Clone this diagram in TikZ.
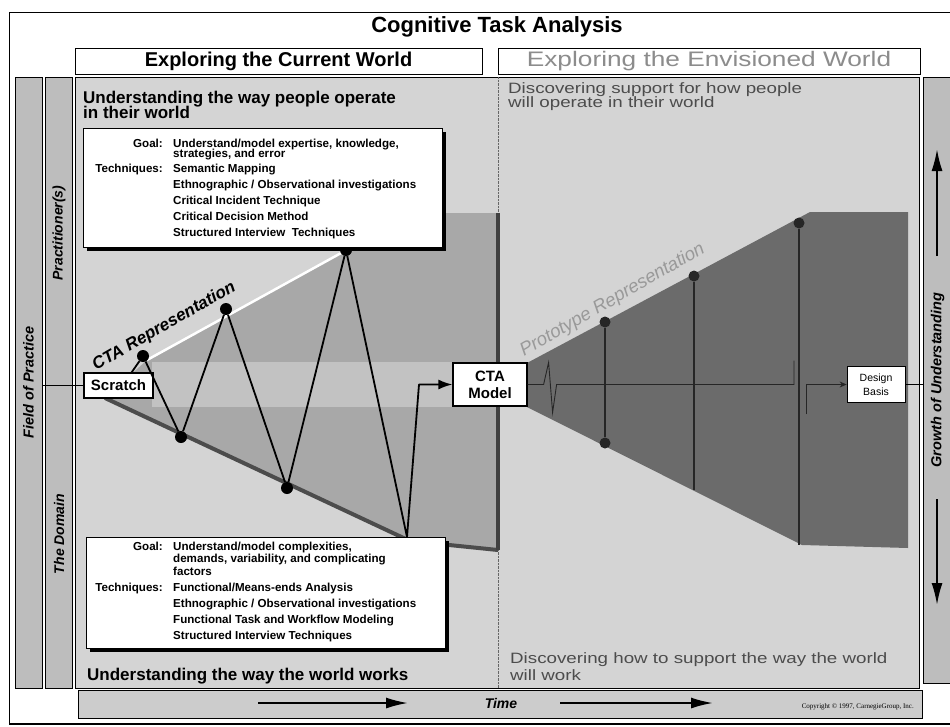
\documentclass[tikz,border=0pt]{standalone}
\usepackage{graphicx}
\usepackage{fontspec}
\setmainfont{Liberation Sans}
\newfontfamily\copyfont{Liberation Serif}
\usetikzlibrary{arrows.meta,shadows}
\newcommand{\widetext}[1]{\scalebox{1.25}[1]{#1}}
\lineskiplimit=-100pt

\begin{document}
\begin{tikzpicture}[x=1pt,y=-1pt,
    hdrbox/.style={draw, fill=white, line width=1pt, inner sep=0pt},
    colbox/.style={draw, fill=black!26, line width=0.6pt, inner sep=0pt,
        font=\bfseries\itshape\fontsize{14.5}{14.5}\selectfont},
    collabel/.style={inner sep=0pt, font=\bfseries\itshape\fontsize{14}{14}\selectfont},
    smallbox/.style={draw, fill=white, line width=1.2pt, inner sep=0pt},
    infobox/.style={draw, fill=white, line width=1pt, inner sep=0pt,
        drop shadow={shadow xshift=3pt, shadow yshift=-3pt, opacity=1, fill=black}},
    boxtext/.style={inner sep=0pt, align=left, font=\bfseries\fontsize{11.6}{16}\selectfont},
    boxkey/.style={boxtext, align=right},
    headtext/.style={inner sep=0pt, align=left, font=\bfseries\fontsize{17}{15}\selectfont},
    softtext/.style={inner sep=0pt, align=left, text=black!70, font=\fontsize{15}{15}\selectfont},
    dot/.style={circle, fill=black, inner sep=0pt, minimum size=12pt},
    pdot/.style={circle, fill=black!85, inner sep=0pt, minimum size=11pt},
    zig/.style={line width=1.8pt, line join=round, -{Latex[length=14pt,width=10pt]}},
    ptrace/.style={line width=1.4pt, black!85},
    ftrace/.style={line width=0.9pt, black!85},
    bigarrow/.style={line width=2pt, -{Latex[length=22pt,width=11pt]}}]

\useasboundingbox (0,0) rectangle (950,726);

% frame and headings
\draw[line width=0.8pt] (952,12) -- (9,12) -- (9,724);
\draw[line width=1.6pt] (9,724) -- (952,724);
\node[font=\bfseries\fontsize{22}{22}\selectfont] (title) at (497,27) {Cognitive Task Analysis};
\node[hdrbox, minimum width=407pt, minimum height=26pt, font=\bfseries\fontsize{20}{20}\selectfont] (curw) at (278.5,61) {Exploring the Current World};
\node[hdrbox, minimum width=422pt, minimum height=26pt, text=black!45, font=\fontsize{21}{21}\selectfont] (envw) at (709,61) {\widetext{Exploring the Envisioned World}};

% side columns
\node[colbox, rotate=90, minimum width=611pt, minimum height=27pt] (fop) at (28.5,382.5) {Field of Practice};
\node[colbox, minimum width=27pt, minimum height=611pt] (prac) at (58.5,382.5) {};
\node[collabel, rotate=90] (pracl) at (59,233) {Practitioner(s)};
\node[collabel, rotate=90] (doml) at (59,534) {The Domain};
\node[colbox, rotate=90, minimum width=606pt, minimum height=29pt] (grow) at (937.5,380) {Growth of Understanding};

% main panel
\filldraw[fill=black!17, line width=0.6pt] (75,77) rectangle (919,688);
\draw[densely dotted, black!60] (498,77) -- (498,688);

% CTA wedge
\fill[black!34] (147,360) -- (360,243) -- (360,213) -- (498,213) -- (498,550) -- (410,541) -- (105,398) -- cycle;
\fill[black!24] (152,362) rectangle (453,407);
\draw[white, line width=2.5pt] (147,360) -- (352,247);
\draw[black!70, line width=4pt] (105,398) -- (410,541) -- (498,550);
\draw[black!75, line width=4pt] (498,213) -- (498,550);

% prototype wedge
\fill[black!58] (527,363) -- (810,212) -- (908,212) -- (908,548) -- (802,545) -- (527,407) -- cycle;

\node[smallbox, minimum width=69pt, minimum height=25pt, font=\bfseries\fontsize{15}{15}\selectfont] (scratch) at (118.5,385.5) {Scratch};
\node[smallbox, minimum width=74pt, minimum height=43pt, align=center, font=\bfseries\fontsize{15}{17}\selectfont] (ctam) at (490,384.5) {CTA\\Model};
\node[smallbox, line width=0.8pt, minimum width=58pt, minimum height=36pt, align=center, font=\fontsize{10.5}{14}\selectfont] (dbase) at (876,384.5) {Design\\Basis};

% zigzag of the current world
\node[dot] (z1) at (143,356) {};
\node[dot] (z2) at (181,437) {};
\node[dot] (z3) at (226,309) {};
\node[dot] (z4) at (287,488) {};
\node[dot] (z5) at (346,250) {};
\coordinate (z6) at (407,537);
\coordinate (z7) at (419,384.5);
\draw[zig] (scratch.45) -- (z1) -- (z2) -- (z3) -- (z4) -- (z5) -- (z6) -- (z7) -- (ctam);

% prototype steps
\node[pdot] (p1) at (605,322) {};
\node[pdot] (p2) at (694,276) {};
\node[pdot] (p3) at (799,223) {};
\node[pdot] (q1) at (605,443) {};
\coordinate (q2) at (694,490);
\coordinate (q3) at (799,545);
\draw[ptrace] (p1) -- (q1);
\draw[ptrace] (p2) -- (q2);
\draw[ptrace] (p3) -- (q3);
\draw[ftrace] (ctam.east) -- ++(16,0) -- ++(5,-22) -- ++(4,50) -- ++(4,-28) -- (794,0 |- ctam.east) -- ++(0,-24);
\draw[ftrace, -{Stealth[length=7pt,width=6pt]}] (806,414) -- (806,0 |- dbase.west) -- (dbase.west);

\draw[line width=0.8pt] (scratch.west) -- (scratch.west -| fop.south);
\draw[line width=0.8pt] (dbase.east) -- (dbase.east -| grow.north);

% texts in the panel
\node[headtext, anchor=north west] (pplop) at (83,91) {Understanding the way people operate\\in their world};
\node[headtext, anchor=base west] (wldw) at (87,680) {Understanding the way the world works};
\node[softtext, font=\fontsize{15}{14}\selectfont, anchor=north west] (supp) at (508,82) {\widetext{Discovering support for how people}\\\widetext{will operate in their world}};
\node[softtext, font=\fontsize{15}{17}\selectfont, anchor=south west] (supw) at (510,681) {\widetext{Discovering how to support the way the world}\\\widetext{will work}};
\node[rotate=30, anchor=base west, inner sep=0pt, font=\bfseries\itshape\fontsize{17}{17}\selectfont] (ctarep) at (96,371) {CTA Representation};
\node[rotate=30, anchor=base west, inner sep=0pt, text=black!40, font=\itshape\fontsize{18.5}{18.5}\selectfont] (proto) at (524,357) {Prototype Representation};

% upper info box
\node[infobox, anchor=north west, minimum width=359pt, minimum height=119pt] (pplbox) at (83,128) {};
\node[boxkey, anchor=north east] (pplkey) at (163,138.4) {Goal:\\[9pt]Techniques:};
\node[boxtext, anchor=north west] (pplval) at (173,138.4) {Understand/model expertise, knowledge,\\[-6pt]strategies, and error\\[-1pt]Semantic Mapping\\Ethnographic / Observational investigations\\Critical Incident Technique\\Critical Decision Method\\Structured Interview\ \ Techniques};

% lower info box
\node[infobox, anchor=north west, minimum width=359pt, minimum height=111pt] (wldbox) at (86,537) {};
\node[boxkey, anchor=north east] (wldkey) at (163,541.4) {Goal:\\[25pt]Techniques:};
\node[boxtext, anchor=north west] (wldval) at (173,541.4) {Understand/model complexities,\\[-4pt]demands, variability, and complicating\\[-3pt]factors\\Functional/Means-ends Analysis\\Ethnographic / Observational investigations\\Functional Task and Workflow Modeling\\Structured Interview Techniques};

% growth arrows
\coordinate (ga) at (937,256);
\coordinate (gb) at (937,149);
\coordinate (gc) at (937,499);
\coordinate (gd) at (937,605);
\draw[bigarrow] (ga) -- (gb);
\draw[bigarrow] (gc) -- (gd);

% time bar
\node[draw, fill=black!20, line width=0.6pt, anchor=north west, minimum width=844pt, minimum height=28pt, inner sep=0pt] (timebar) at (78,690) {};
\node[font=\bfseries\itshape\fontsize{14}{14}\selectfont] (timel) at (501,703) {Time};
\coordinate (ta) at (258,703);
\coordinate (tb) at (408,703);
\coordinate (tc) at (560,703);
\coordinate (td) at (713,703);
\draw[bigarrow] (ta) -- (tb);
\draw[bigarrow] (tc) -- (td);
\node[anchor=east, inner sep=0pt, font=\copyfont\fontsize{7}{7}\selectfont] (copy) at (914,707) {Copyright \textcopyright\ 1997, CarnegieGroup, Inc.};
\end{tikzpicture}
\end{document}
